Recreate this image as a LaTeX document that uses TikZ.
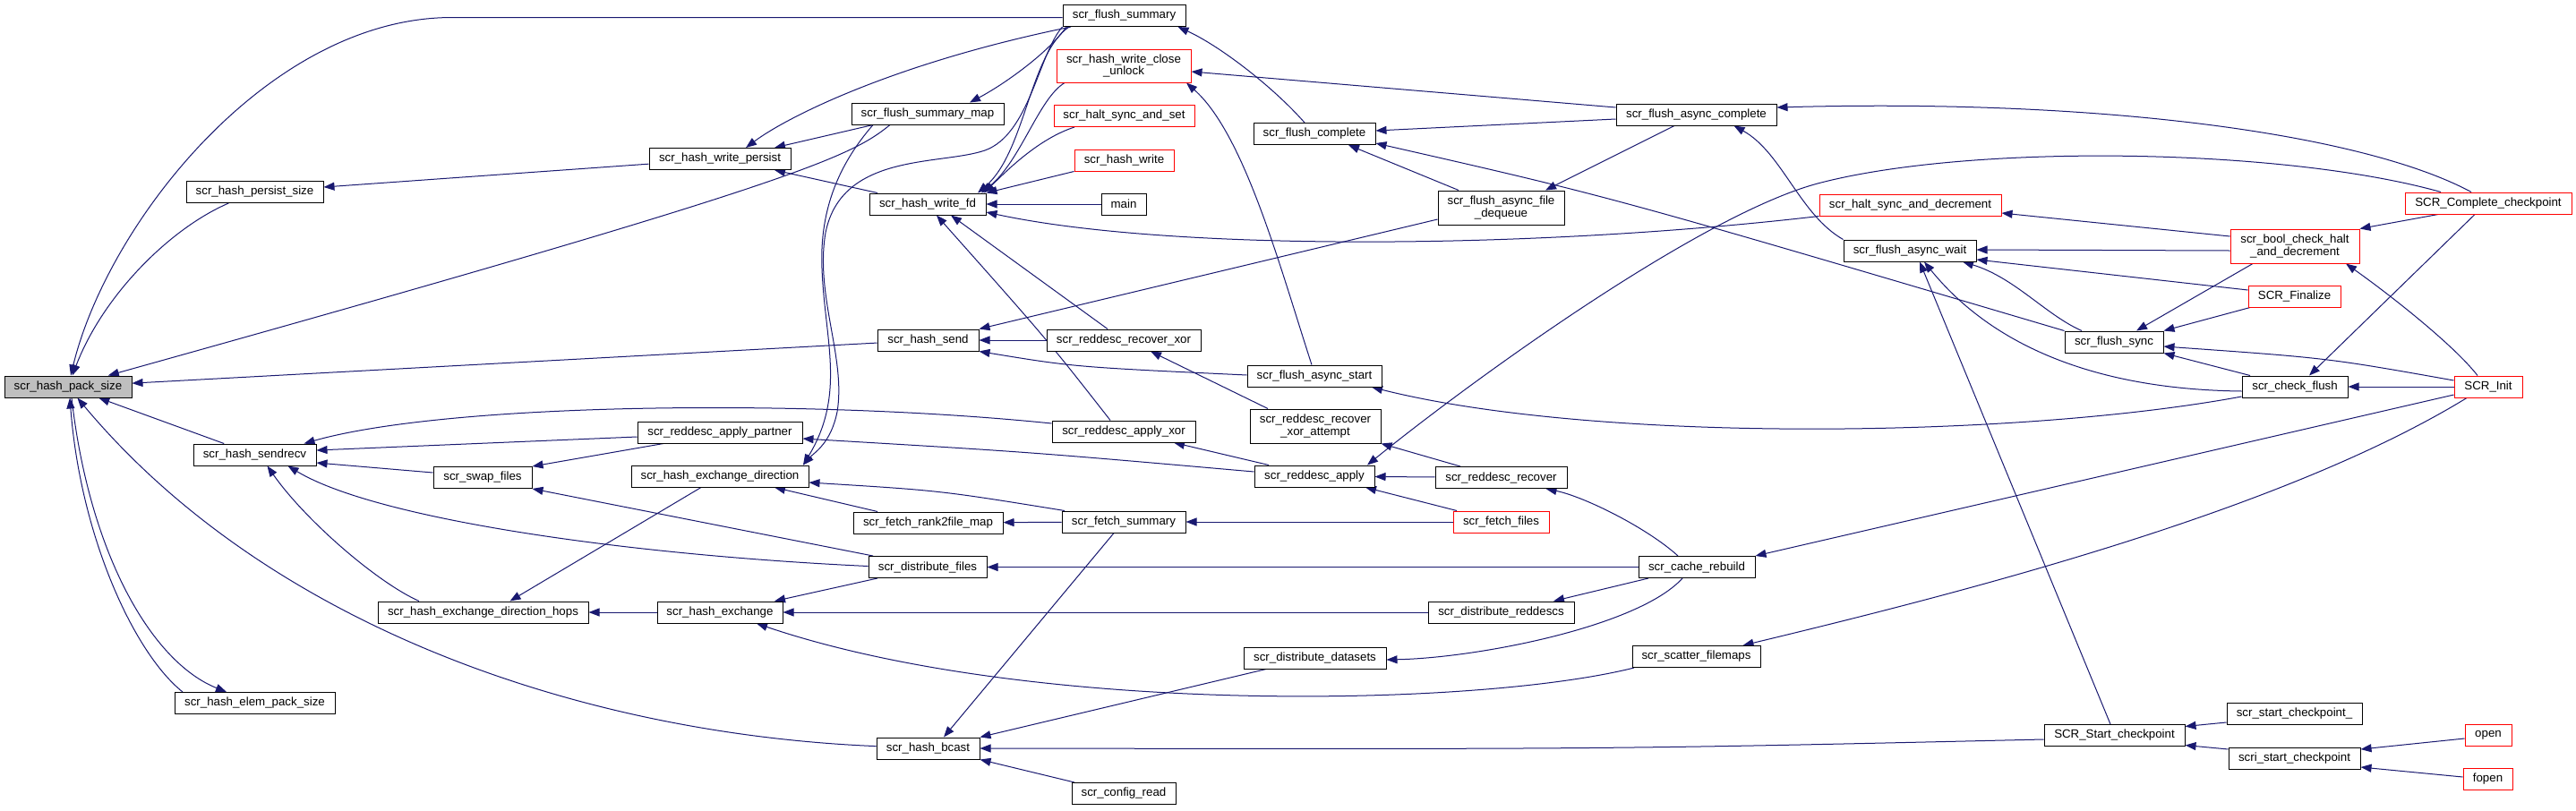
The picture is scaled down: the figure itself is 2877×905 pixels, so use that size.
\documentclass[tikz,border=0pt]{standalone}
\usepackage{fontspec}
\setmainfont{Liberation Sans}
\usetikzlibrary{arrows.meta}
\definecolor{edgec}{HTML}{191970}
\definecolor{grayfill}{HTML}{BFBFBF}
\pgfdeclarelayer{bg}
\pgfdeclarelayer{edges}
\pgfsetlayers{bg,edges,main}
\begin{document}
\begin{tikzpicture}[x=1pt,y=-1pt,
  fn/.style={draw=black, fill=white, line width=1pt, inner sep=0pt, minimum height=24pt,
    font=\fontsize{13.3}{13.6}\selectfont, align=center},
  fnr/.style={fn, draw=red},
  edge/.style={draw=edgec, line width=1pt, -{Triangle[length=12pt,width=9pt]}}]
\begin{pgfonlayer}{bg}
\fill[white] (0,0) rectangle (2877,905);
\end{pgfonlayer}
\useasboundingbox (0,0) rectangle (2877,905);
% nodes
\node[fn,fill=grayfill,minimum width=142pt] (pack) at (76,432) {scr\_hash\_pack\_size};
\node[fn,minimum width=153pt] (psize) at (284.5,214.5) {scr\_hash\_persist\_size};
\node[fn,minimum width=137pt] (sr) at (284.5,508) {scr\_hash\_sendrecv};
\node[fn,minimum width=179pt] (elem) at (284.5,785.5) {scr\_hash\_elem\_pack\_size};
\node[fn,minimum width=110pt] (swap) at (539,533.5) {scr\_swap\_files};
\node[fn,minimum width=235pt] (hops) at (539.5,684) {scr\_hash\_exchange\_direction\_hops};
\node[fn,minimum width=158pt] (wp) at (804,177.5) {scr\_hash\_write\_persist};
\node[fn,minimum width=184pt] (apart) at (804,483) {scr\_reddesc\_apply\_partner};
\node[fn,minimum width=198pt] (hxd) at (804,532) {scr\_hash\_exchange\_direction};
\node[fn,minimum width=140pt] (hx) at (804,684) {scr\_hash\_exchange};
\node[fn,minimum width=170pt] (fsmap) at (1036,127) {scr\_flush\_summary\_map};
\node[fn,minimum width=130pt] (wfd) at (1036,228) {scr\_hash\_write\_fd};
\node[fn,minimum width=113pt] (hs) at (1036.5,380) {scr\_hash\_send};
\node[fn,minimum width=167pt] (r2f) at (1036.5,584) {scr\_fetch\_rank2file\_map};
\node[fn,minimum width=132pt] (df) at (1036,633.5) {scr\_distribute\_files};
\node[fn,minimum width=115pt] (hb) at (1036.5,836) {scr\_hash\_bcast};
\node[fn,minimum width=137pt] (fsum) at (1255.5,17.5) {scr\_flush\_summary};
\node[fnr,minimum width=150pt,minimum height=37pt] (wcu) at (1255,73.5) {scr\_hash\_write\_close\\\_unlock};
\node[fnr,minimum width=157pt] (hss) at (1255.5,129.5) {scr\_halt\_sync\_and\_set};
\node[fnr,minimum width=111pt] (hw) at (1255.5,179) {scr\_hash\_write};
\node[fn,minimum width=50pt] (main) at (1255,228) {main};
\node[fn,minimum width=172pt] (rxor) at (1255,380) {scr\_reddesc\_recover\_xor};
\node[fn,minimum width=160pt] (axor) at (1255,482) {scr\_reddesc\_apply\_xor};
\node[fn,minimum width=138pt] (fsm) at (1255,583) {scr\_fetch\_summary};
\node[fn,minimum width=116pt] (cfg) at (1255,886.5) {scr\_config\_read};
\node[fn,minimum width=136pt] (fc) at (1468,149.5) {scr\_flush\_complete};
\node[fn,minimum width=150pt] (fas) at (1468,420) {scr\_flush\_async\_start};
\node[fn,minimum width=146pt,minimum height=38pt] (rxa) at (1469,476) {scr\_reddesc\_recover\\\_xor\_attempt};
\node[fn,minimum width=134pt] (rap) at (1468,532) {scr\_reddesc\_apply};
\node[fn,minimum width=159pt] (dd) at (1468.5,735) {scr\_distribute\_datasets};
\node[fn,minimum width=141pt,minimum height=38pt] (afd) at (1676.5,232) {scr\_flush\_async\_file\\\_dequeue};
\node[fn,minimum width=147pt] (rrec) at (1676.5,533.5) {scr\_reddesc\_recover};
\node[fnr,minimum width=107pt] (ff) at (1676.5,583) {scr\_fetch\_files};
\node[fn,minimum width=163pt] (drd) at (1676.5,684) {scr\_distribute\_reddescs};
\node[fn,minimum width=179pt] (fac) at (1894.5,128) {scr\_flush\_async\_complete};
\node[fn,minimum width=130pt] (cr) at (1895,633.5) {scr\_cache\_rebuild};
\node[fn,minimum width=143pt] (sf) at (1894.5,733.5) {scr\_scatter\_filemaps};
\node[fnr,minimum width=203pt] (hsd) at (2133.5,229) {scr\_halt\_sync\_and\_decrement};
\node[fn,minimum width=148pt] (faw) at (2133,280) {scr\_flush\_async\_wait};
\node[fn,minimum width=110pt] (fsync) at (2361,382) {scr\_flush\_sync};
\node[fn,minimum width=157pt] (ssc) at (2361.5,821.5) {SCR\_Start\_checkpoint};
\node[fnr,minimum width=144pt,minimum height=38pt] (bch) at (2563,275) {scr\_bool\_check\_halt\\\_and\_decrement};
\node[fnr,minimum width=103pt] (fin) at (2562.5,331) {SCR\_Finalize};
\node[fn,minimum width=118pt] (cf) at (2563,432) {scr\_check\_flush};
\node[fn,minimum width=151pt] (scu) at (2562.5,797) {scr\_start\_checkpoint\_};
\node[fn,minimum width=147pt] (scri) at (2562.5,847) {scri\_start\_checkpoint};
\node[fnr,minimum width=186pt] (scc) at (2779,227) {SCR\_Complete\_checkpoint};
\node[fnr,minimum width=76pt] (init) at (2779,432) {SCR\_Init};
\node[fnr,minimum width=52pt] (open) at (2779,821.5) {open};
\node[fnr,minimum width=55pt] (fopen) at (2778.5,870.5) {fopen};
\begin{pgfonlayer}{edges}
% into pack
\draw[edge] ([yshift=-2pt]fsum.west) -- (505,19.5) .. controls (300,19.5) and (120,250) .. (pack);
\draw[edge] (psize) .. controls (190,255) and (115,330) .. (pack);
\draw[edge] ([xshift=-42pt]fsmap.south) .. controls (950,175) and (897,203) .. (pack);
\draw[edge] (hs) -- (pack);
\draw[edge] (sr) -- (pack);
\draw[edge] (hb) .. controls (650,820) and (300,700) .. (pack);
\draw[edge] ([xshift=-80.5pt]elem.north) .. controls (150,730) and (90,600) .. ([xshift=2pt]pack.south);
\draw[edge] ([xshift=4pt]pack.south) .. controls (100,620) and (170,740) .. ([xshift=-31.5pt]elem.north);
\draw[edge] (wp) -- (psize);
% write_persist
\draw[edge] ([xshift=-59.5pt]fsum.south) .. controls (1000,70) and (880,130) .. ([xshift=29pt]wp.north);
\draw[edge] ([xshift=-61pt]fsmap.south) -- ([xshift=61pt]wp.north);
\draw[edge] ([xshift=-56pt]wfd.north) -- ([xshift=61pt]wp.south);
% flush_summary_map
\draw[edge] ([xshift=-64.5pt]fsum.south) .. controls (1170,60) and (1120,95) .. ([xshift=47pt]fsmap.north);
% hash_exchange_direction from top
\draw[edge] (fsum.south west) .. controls (1160,60) and (1150,150) .. (1100,168) .. controls (1050,185) and (940,170) .. (922,260) .. controls (910,330) and (945,400) .. (935,460) .. controls (928,495) and (910,505) .. ([xshift=93pt]hxd.north);
\draw[edge] ([xshift=-61pt]fsmap.south) .. controls (940,180) and (915,230) .. (918,300) .. controls (921,380) and (945,440) .. ([xshift=93pt]hxd.north);
% write_fd
\draw[edge] ([xshift=-61.5pt]fsum.south) .. controls (1150,60) and (1145,170) .. ([xshift=56pt]wfd.north);
\draw[edge] ([xshift=-66pt]wcu.south) .. controls (1160,110) and (1140,180) .. ([xshift=60pt]wfd.north);
\draw[edge] ([xshift=-55.5pt]hss.south) .. controls (1160,155) and (1125,190) .. ([xshift=63pt]wfd.north);
\draw[edge] (hw.south west) -- (wfd.north east);
\draw[edge] (main) -- (wfd);
\draw[edge] (hsd.south west) .. controls (1700,280) and (1300,280) .. ([yshift=-9pt]wfd.east);
\draw[edge] ([xshift=-15pt]axor.north) .. controls (1170,380) .. ([xshift=10pt]wfd.south);
\draw[edge] ([xshift=-18pt]rxor.north) -- ([xshift=26pt]wfd.south);
% write_close_unlock
\draw[edge] ([yshift=8pt]fac.west) -- ([yshift=-6.5pt]wcu.east);
\draw[edge] ([xshift=-3pt]fas.north) .. controls (1430,300) and (1390,150) .. ([xshift=70pt]wcu.south);
% flush_summary
\draw[edge] ([xshift=-11pt]fc.north) .. controls (1420,95) and (1360,50) .. ([xshift=60pt]fsum.south);
% flush_complete
\draw[edge] ([yshift=-5pt]fac.west) -- ([yshift=3.5pt]fc.east);
\draw[edge] (fsync.north west) .. controls (1800,220) .. ([yshift=-10.5pt]fc.east);
\draw[edge] ([xshift=-47.5pt]afd.north) -- ([xshift=38pt]fc.south);
% async_file_dequeue
\draw[edge] ([xshift=-24.5pt]fac.south) -- ([xshift=49.5pt]afd.north);
% hash_send
\draw[edge] ([yshift=-13pt]afd.west) -- (hs.north east);
\draw[edge] (rxor) -- (hs);
\draw[edge] ([yshift=1pt]fas.west) .. controls (1200,410) .. (hs.south east);
% flush_async_complete
\draw[edge] ([xshift=-19pt]scc.north) .. controls (2640,150) and (2350,110) .. ([yshift=8pt]fac.east);
\draw[edge] (faw.north west) .. controls (2010,240) and (1990,170) .. ([xshift=42pt]fac.south);
% flush_async_wait
\draw[edge] ([yshift=-5pt]bch.west) -- ([yshift=1pt]faw.east);
\draw[edge] ([yshift=7pt]fin.west) -- ([yshift=-10pt]faw.east);
\draw[edge] ([xshift=-36pt]fsync.north) .. controls (2285,352) and (2250,310) .. ([xshift=59pt]faw.south);
\draw[edge] ([xshift=-4.5pt]ssc.north) -- ([xshift=11pt]faw.south);
\draw[edge] ([yshift=-5pt]cf.west) .. controls (2330,435) and (2220,380) .. ([xshift=16pt]faw.south);
% halt_sync_and_decrement
\draw[edge] ([yshift=11pt]bch.west) -- ([yshift=-9pt]hsd.east);
% bool_check_halt
\draw[edge] ([xshift=-56pt]scc.south) -- (bch.north east);
\draw[edge] ([xshift=-12pt]init.north) .. controls (2740,385) and (2670,330) .. ([xshift=57pt]bch.south);
% flush_sync
\draw[edge] ([xshift=-47pt]bch.south) -- ([xshift=25pt]fsync.north);
\draw[edge] ([xshift=-49.5pt]fin.south) -- (fsync.north east);
\draw[edge] ([yshift=7pt]init.west) .. controls (2600,400) .. ([yshift=-5pt]fsync.east);
\draw[edge] ([xshift=-50pt]cf.north) -- (fsync.south east);
% check_flush
\draw[edge] ([xshift=-15pt]scc.south) -- ([xshift=16pt]cf.north);
\draw[edge] (init) -- (cf);
% flush_async_start
\draw[edge] ([yshift=-11pt]cf.west) .. controls (2250,490) and (1780,495) .. ([xshift=64pt]fas.south);
% cache_rebuild, scatter_filemaps
\draw[edge] ([yshift=-9pt]init.west) -- (cr.north east);
\draw[edge] ([xshift=-24pt]init.south) .. controls (2550,570) and (2200,660) .. ([xshift=52pt]sf.north);
% reddesc_apply
\draw[edge] ([xshift=-53pt]scc.north) .. controls (2550,165) and (2200,160) .. (2030,205) .. controls (1900,240) and (1650,420) .. ([xshift=59pt]rap.north);
\draw[edge] (rrec) -- (rap);
\draw[edge] ([xshift=-49.5pt]ff.north) -- ([xshift=57pt]rap.south);
% apply_xor, apply_partner
\draw[edge] ([xshift=-51pt]rap.north) -- ([xshift=56pt]axor.south);
\draw[edge] ([yshift=5pt]rap.west) .. controls (1150,505) .. ([yshift=-7pt]apart.east);
% reddesc_recover, xor_attempt, recover_xor
\draw[edge] ([xshift=-21pt]cr.north) .. controls (1840,590) and (1770,555) .. ([xshift=50pt]rrec.south);
\draw[edge] ([xshift=-45.5pt]rrec.north) -- (rxa.south east);
\draw[edge] ([xshift=-53pt]rxa.north) -- ([xshift=30pt]rxor.south);
% sendrecv
\draw[edge] ([yshift=9pt]axor.west) .. controls (900,445) and (500,450) .. ([xshift=55pt]sr.north);
\draw[edge] ([yshift=-5pt]apart.west) -- ([yshift=5pt]sr.east);
\draw[edge] ([yshift=5.5pt]swap.west) -- ([yshift=-9pt]sr.east);
\draw[edge] ([yshift=1pt]df.west) .. controls (700,620) and (420,580) .. ([xshift=37pt]sr.south);
\draw[edge] ([xshift=-71.5pt]hops.north) .. controls (420,650) and (340,580) .. ([xshift=14pt]sr.south);
% swap_files
\draw[edge] ([xshift=-63pt]apart.south) -- (swap.north east);
\draw[edge] ([xshift=-61pt]df.north) -- (swap.south east);
% hops
\draw[edge] ([xshift=-21pt]hxd.south) -- ([xshift=30pt]hops.north);
\draw[edge] (hx) -- (hops);
% hash_exchange_direction
\draw[edge] ([xshift=-66pt]fsm.north) .. controls (1050,548) .. ([yshift=-7pt]hxd.east);
\draw[edge] ([xshift=-56.5pt]r2f.north) -- ([xshift=61pt]hxd.south);
% fetch
\draw[edge] (fsm) -- (r2f);
\draw[edge] (ff) -- (fsm);
% hash_exchange
\draw[edge] ([xshift=-56pt]df.south) -- ([xshift=61pt]hx.north);
\draw[edge] (drd) -- (hx);
\draw[edge] ([xshift=-69.5pt]sf.south) .. controls (1650,790) and (1150,800) .. ([xshift=41pt]hx.south);
\draw[edge] (cr) -- (df);
% hash_bcast
\draw[edge] ([xshift=-11pt]fsm.south) -- ([xshift=17.5pt]hb.north);
\draw[edge] ([xshift=-54.5pt]dd.south) -- (hb.north east);
\draw[edge] ([yshift=-4.5pt]ssc.west) .. controls (1800,837) .. (hb.east);
\draw[edge] ([xshift=-55pt]cfg.north) -- (hb.south east);
% distribute
\draw[edge] ([xshift=-16pt]cr.south) .. controls (1830,700) and (1650,735) .. ([yshift=-2pt]dd.east);
\draw[edge] ([xshift=-54pt]cr.south) -- ([xshift=58.5pt]drd.north);
% checkpoint
\draw[edge] ([yshift=-10pt]scu.west) -- ([yshift=10pt]ssc.east);
\draw[edge] ([yshift=10pt]scri.west) -- ([yshift=-11pt]ssc.east);
\draw[edge] ([yshift=-3.5pt]open.west) -- ([yshift=10pt]scri.east);
\draw[edge] ([yshift=2.5pt]fopen.west) -- ([yshift=-10pt]scri.east);
\end{pgfonlayer}
\end{tikzpicture}
\end{document}
